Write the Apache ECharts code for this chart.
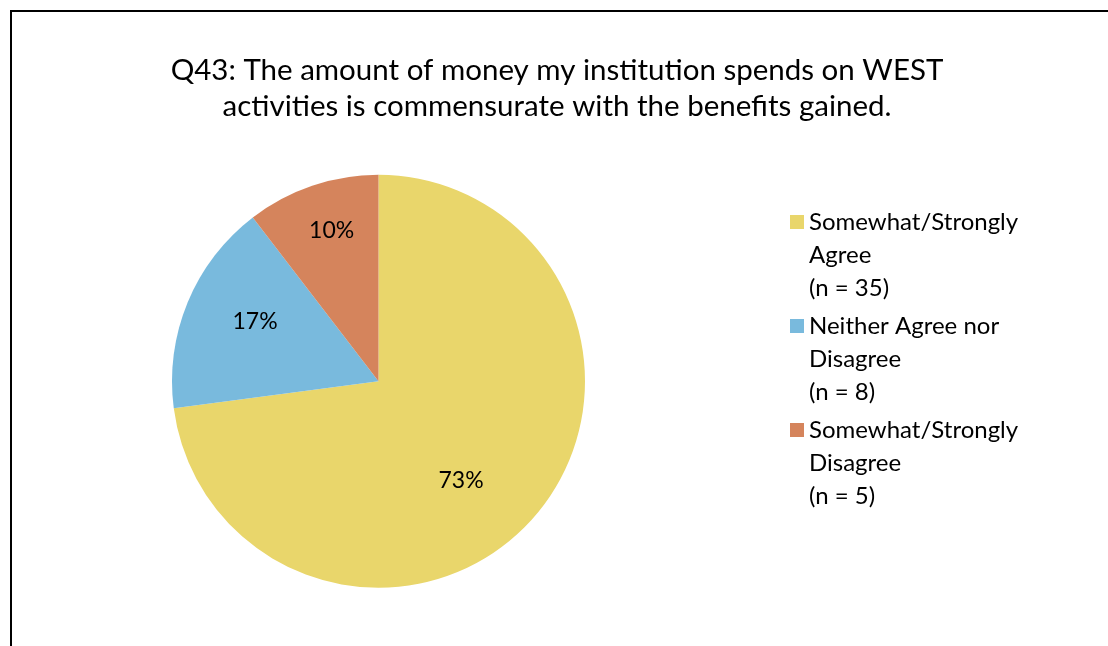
<!DOCTYPE html>
<html>
<head>
<meta charset="utf-8">
<script src="https://cdn.jsdelivr.net/npm/echarts@6/dist/echarts.min.js"></script>
<style>
  html, body { margin: 0; padding: 0; background: #fff; }
  #chart { position: absolute; left: 0; top: 0; width: 1108px; height: 646px; }
  #frame { position: absolute; left: 10px; top: 10px; width: 1108px; height: 646px;
           border-left: 2px solid #000; border-top: 2px solid #000; box-sizing: border-box; pointer-events: none; }
</style>
</head>
<body>
<div id="chart"></div>
<div id="frame"></div>
<script>
// Survey responses for Q43
const categories = ['Somewhat/Strongly Agree', 'Neither Agree nor Disagree', 'Somewhat/Strongly Disagree'];
const legendLines = [['Somewhat/Strongly', 'Agree'], ['Neither Agree nor', 'Disagree'], ['Somewhat/Strongly', 'Disagree']];
const counts = [35, 8, 5];
const sliceColors = ['#E9D66B', '#79BADD', '#D5845C'];
const titleText = 'Q43: The amount of money my institution spends on WEST\nactivities is commensurate with the benefits gained.';

// Pie geometry and label placement (radius fraction, angular shift in degrees)
const FONT = 'Lato';
const CX = 378.5, CY = 381.3, R = 206.5;
const labelPlacement = [[0.625, 9], [0.665, 3.5], [0.765, 1.5]];

const total = counts.reduce((a, b) => a + b, 0);
const midAngles = [];
let acc = 0;
counts.forEach(v => { midAngles.push((acc + v / 2) / total * 360); acc += v; });

// Legend marker: square at the top of a box as tall as the three text lines
const LINE_H = 33;
const BLOCK_H = LINE_H * 3;
const sq = (LINE_H - 14) / 2;
const legendIcon = 'path://M0,' + sq + 'h14v14h-14z M0,0h0.01v0.01h-0.01z M0,' + BLOCK_H + 'h0.01v0.01h-0.01z';

const chart = echarts.init(document.getElementById('chart'), null, { renderer: 'canvas' });
chart.setOption({
  animation: false,
  backgroundColor: '#fff',
  title: {
    text: titleText,
    left: 557, top: 52, textAlign: 'center', padding: 0,
    textStyle: { fontFamily: FONT, fontSize: 29.5, fontWeight: 'normal', color: '#000', lineHeight: 36 }
  },
  legend: {
    orient: 'vertical',
    left: 790, top: 205.5, padding: 0,
    itemWidth: 14, itemHeight: BLOCK_H, itemGap: 5,
    icon: legendIcon,
    data: categories,
    formatter: name => {
      const i = categories.indexOf(name);
      return legendLines[i].join('\n') + '\n(n = ' + counts[i] + ')';
    },
    textStyle: { fontFamily: FONT, fontSize: 24, color: '#000', lineHeight: LINE_H, padding: [0,0,0,0] }
  },
  series: [{
    type: 'pie',
    center: [CX, CY],
    radius: R,
    startAngle: 90,
    clockwise: true,
    silent: true,
    label: {
      show: true,
      position: 'inside',
      fontFamily: FONT, fontSize: 23, color: '#000',
      formatter: p => Math.round(p.value / total * 100) + '%'
    },
    labelLine: { show: false },
    labelLayout: p => {
      const [f, shift] = labelPlacement[p.dataIndex];
      const a = (midAngles[p.dataIndex] + shift) * Math.PI / 180;
      return { x: CX + R * f * Math.sin(a), y: CY - R * f * Math.cos(a) };
    },
    itemStyle: { borderWidth: 0 },
    data: categories.map((c, i) => ({ name: c, value: counts[i], itemStyle: { color: sliceColors[i] } }))
  }]
});
</script>
</body>
</html>
